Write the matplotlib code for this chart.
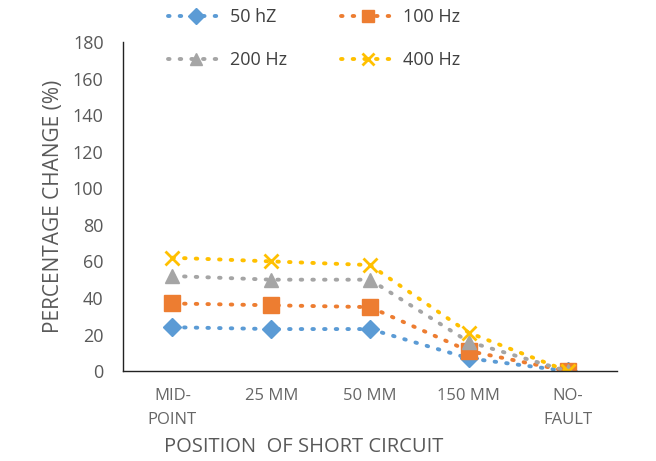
import matplotlib.pyplot as plt
import numpy as np

categories = ["MID-\nPOINT", "25 MM", "50 MM", "150 MM", "NO-\nFAULT"]
series_names = ["50 hZ", "100 Hz", "200 Hz", "400 Hz"]
hz50 = [24, 23, 23, 7, 0]
hz100 = [37, 36, 35, 11, 0]
hz200 = [52, 50, 50, 16, 0]
hz400 = [62, 60, 58, 21, 0]
y_ticks = [0, 20, 40, 60, 80, 100, 120, 140, 160, 180]

colors = ["#5B9BD5", "#ED7D31", "#A5A5A5", "#FFC000"]
markers = ["D", "s", "^", "x"]
msizes = [9, 11, 10, 10]

plt.rcParams["font.family"] = ["Open Sans", "DejaVu Sans"]

fig = plt.figure(figsize=(6.56, 4.61), dpi=100)
ax = fig.add_axes([0.1875, 0.195, 0.753, 0.714])

x = np.arange(len(categories))
lines = []
for vals, name, c, m, ms in zip([hz50, hz100, hz200, hz400], series_names, colors, markers, msizes):
    ln, = ax.plot(x, vals, linestyle=(0, (0.4, 2.6)), dash_capstyle="round", linewidth=2.8,
                  color=c, marker=m, markersize=ms, markeredgewidth=2 if m == "x" else 1,
                  label=name)
    lines.append(ln)

ax.set_xlim(-0.5, len(categories) - 0.5)
ax.set_ylim(0, 180)
ax.set_yticks(y_ticks)
ax.set_xticks(x)
ax.set_xticklabels(categories, fontsize=12, color="#666666", linespacing=1.7)
ax.tick_params(axis="y", labelsize=13, labelcolor="#595959", length=0, pad=14)
ax.tick_params(axis="x", length=0, pad=12)
for side in ["top", "right"]:
    ax.spines[side].set_visible(False)
for side in ["left", "bottom"]:
    ax.spines[side].set_color("#222222")
    ax.spines[side].set_linewidth(1.0)

ax.set_ylabel("PERCENTAGE CHANGE (%)", fontsize=15, color="#595959", labelpad=6)
ax.set_xlabel("POSITION  OF SHORT CIRCUIT", fontsize=14.5, color="#595959")
ax.xaxis.set_label_coords(0.365, -0.2)

# legend fills column-wise, so reorder to get 50/100 on the first row
order = [0, 2, 1, 3]
fig.legend([lines[i] for i in order], [series_names[i] for i in order],
           loc="upper left", bbox_to_anchor=(0.232, 1.018), ncol=2, frameon=False,
           fontsize=13, handlelength=3.0, handletextpad=0.4, columnspacing=3.0,
           labelspacing=1.4, labelcolor="#404040", markerscale=0.85)

fig.savefig("out.png", dpi=100)
